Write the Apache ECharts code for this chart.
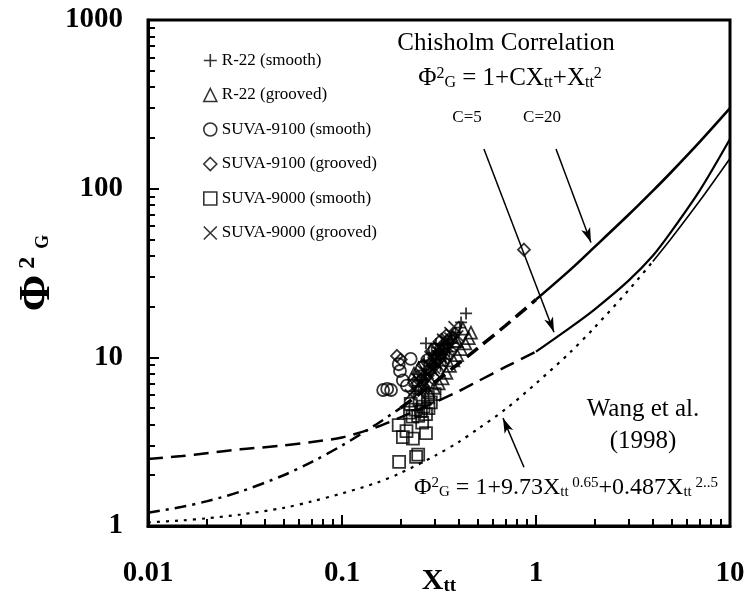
<!DOCTYPE html>
<html><head><meta charset="utf-8">
<script src="https://cdn.jsdelivr.net/npm/echarts@6/dist/echarts.min.js"></script>
<style>html,body{margin:0;padding:0;background:#fff}#c{width:744px;height:603px}</style>
</head><body><div id="c"></div>
<script>
// ---- data ----
const xCurve = [0.01, 0.015, 0.02, 0.03, 0.05, 0.07, 0.1, 0.15, 0.2, 0.3, 0.4, 0.5, 0.7, 1, 1.5, 2, 3, 4, 5, 7, 10];
const yChisholm20 = [1.2, 1.3, 1.4, 1.6, 2.0, 2.4, 3.0, 4.0, 5.0, 7.1, 9.2, 11.3, 15.5, 22, 33, 45, 70, 97, 126, 190, 300];
const yWang = [2.5, 2.6, 2.7, 2.85, 3.0, 3.15, 3.35, 3.85, 4.4, 5.4, 6.3, 7.2, 8.8, 10.8, 15.0, 19.2, 28.5, 40, 56, 98, 197];
const yChisholm5 = [1.05, 1.08, 1.11, 1.17, 1.28, 1.4, 1.56, 1.8, 2.06, 2.6, 3.15, 3.75, 4.95, 7.0, 10.7, 15, 25, 37, 51, 85, 151];

const xMinorTicks = [0.02,0.03,0.04,0.05,0.06,0.07,0.08,0.09,0.2,0.3,0.4,0.5,0.6,0.7,0.8,0.9,2,3,4,5,6,7,8,9];
const yMinorTicks = [2,3,4,5,6,7,8,9,20,30,40,50,60,70,80,90,200,300,400,500,600,700,800,900];

const r22Smooth = [[0.436,18.2],[0.411,16.1],[0.405,15.0],[0.385,14.0],[0.271,12.1],[0.365,12.8],[0.35,12.0],[0.335,11.2],[0.32,10.5],[0.305,9.7],[0.292,9.1],[0.28,8.4],[0.27,7.9],[0.258,7.3],[0.248,6.8],[0.238,6.3],[0.305,12.0],[0.322,8.9],[0.342,9.8],[0.358,10.8],[0.29,10.6],[0.265,9.4],
  [0.283,9.6],[0.297,10.2],[0.312,10.9],[0.327,11.8],[0.3,8.9],[0.287,8.1]];
const r22Grooved = [[0.462,14.0],[0.45,13.0],[0.432,12.1],[0.41,11.2],[0.392,10.3],[0.375,9.6],[0.36,8.9],[0.345,8.1],[0.33,7.5],[0.315,7.0],[0.235,8.0],[0.248,8.6],[0.298,6.6],[0.28,6.2],[0.37,13.2],[0.42,14.8],[0.39,12.5]];
const suva9100Smooth = [[0.163,6.4],[0.171,6.5],[0.179,6.4],[0.196,9.1],[0.199,8.3],[0.206,7.3],[0.216,6.8],[0.252,7.7],[0.275,9.6],[0.30,11.2],[0.226,9.8]];
const suva9100Grooved = [[0.192,10.2],[0.201,9.7],[0.867,43.5],[0.262,9.0],[0.288,10.8],[0.318,12.4],[0.236,7.1],[0.345,13.5]];
const suva9000Smooth = [[0.196,3.96],[0.206,3.36],[0.224,4.70],[0.231,4.45],[0.239,4.90],[0.247,4.50],[0.255,4.80],[0.263,5.10],[0.271,4.60],[0.279,5.00],[0.287,5.40],[0.232,3.30],[0.271,3.55],[0.197,2.40],[0.241,2.57],[0.247,2.65],[0.215,3.65],[0.259,4.10],[0.226,5.30],[0.251,5.60],[0.277,5.80],[0.30,6.05]];
const suva9000Grooved = [[0.225,6.0],[0.235,6.4],[0.245,6.9],[0.255,7.1],[0.262,7.6],[0.27,8.2],[0.278,8.0],[0.285,8.8],[0.295,9.3],[0.30,8.6],[0.31,10.0],[0.32,10.6],[0.33,9.8],[0.34,11.4],[0.35,12.2],[0.26,6.5],[0.28,7.3],[0.242,7.5],[0.29,10.2],[0.315,11.5],[0.33,12.8],[0.36,14.0],
  [0.25,6.2],[0.268,6.9],[0.285,7.6],[0.3,8.2],[0.315,8.9],[0.325,9.3],[0.338,10.2],[0.352,10.9],[0.368,11.7],[0.38,12.6],[0.395,13.4],[0.3,9.6],[0.31,11.0],[0.345,12.9],[0.275,9.0],[0.255,8.0],[0.378,15.2],[0.36,13.0],
  [0.265,7.2],[0.292,8.4],[0.307,9.2],[0.322,10.1],[0.336,10.8],[0.35,11.6]];

const arrowC5 = [[0.539,172],[1.238,14.1]];
const arrowC20 = [[1.268,172],[1.92,47.9]];
const arrowWang = [[0.867,2.23],[0.676,4.36]];

const seriesNames = ['R-22 (smooth)','R-22 (grooved)','SUVA-9100 (smooth)','SUVA-9100 (grooved)','SUVA-9000 (smooth)','SUVA-9000 (grooved)'];

// ---- chart ----
const FF = '"Liberation Serif","Times New Roman",serif';
const seg = (ys, a, b) => xCurve.slice(a, b + 1).map((x, i) => [x, ys[a + i]]);
const lineS = (data, type, width) => ({
  type: 'line', data, symbol: 'none', smooth: 0.3, silent: true, z: 2,
  lineStyle: { color: '#000', width, type, cap: 'butt' }
});
const mk = (name, data, symbol, size) => ({
  type: 'scatter', name, data, symbol, symbolSize: size, z: 3, silent: true,
  itemStyle: { color: 'transparent', borderColor: '#000', borderWidth: 1.8 }
});
const PLUS = 'path://M5,0L5,10M0,5L10,5';
const CROSS = 'path://M0,0L10,10M10,0L0,10';

const chart = echarts.init(document.getElementById('c'), null, { renderer: 'canvas' });
const arrowLine = (pts) => [
  { coord: pts[0], symbol: 'none' },
  { coord: pts[1], symbol: 'arrow', symbolSize: [7, 15] }
];
const plainNum = (v) => String(+v.toPrecision(6));
chart.setOption({
  animation: false,
  backgroundColor: '#fff',
  grid: { left: 148, right: 14, top: 20, bottom: 77, containLabel: false, outerBoundsMode: 'none',
          show: true, borderColor: '#000', borderWidth: 3, backgroundColor: 'transparent' },
  legend: {
    data: seriesNames, orient: 'vertical', left: 203, top: 52, padding: 0,
    itemWidth: 13, itemHeight: 13, itemGap: 17.5,
    textStyle: { fontFamily: FF, fontSize: 17, color: '#000', lineHeight: 17 },
    itemStyle: { color: 'transparent', borderColor: '#000', borderWidth: 1.6 },
    selectedMode: false
  },
  xAxis: [{
    type: 'log', logBase: 10, min: 0.01, max: 10,
    axisLine: { lineStyle: { color: '#000', width: 3 } },
    axisTick: { inside: true, length: 11, lineStyle: { color: '#000', width: 2 } },
    axisLabel: { margin: 33, fontFamily: FF, fontWeight: 'bold', fontSize: 29, color: '#000', formatter: plainNum },
    splitLine: { show: false },
    name: '{x|X}{t|tt}', nameLocation: 'middle', nameGap: 40, nameMoveOverlap: false,
    nameTextStyle: { rich: {
      x: { fontFamily: FF, fontWeight: 'bold', fontSize: 30, color: '#000' },
      t: { fontFamily: FF, fontWeight: 'bold', fontSize: 19, color: '#000', verticalAlign: 'bottom' } } }
  }, {
    type: 'log', logBase: 10, min: 0.01, max: 10, position: 'bottom',
    axisLine: { show: false },
    axisTick: { inside: true, length: 7, customValues: xMinorTicks, lineStyle: { color: '#000', width: 2 } },
    axisLabel: { show: false }, splitLine: { show: false }
  }],
  yAxis: [{
    type: 'log', logBase: 10, min: 1, max: 1000,
    axisLine: { lineStyle: { color: '#000', width: 3 } },
    axisTick: { inside: true, length: 11, lineStyle: { color: '#000', width: 2 } },
    axisLabel: { margin: 25, fontFamily: FF, fontWeight: 'bold', fontSize: 29, color: '#000', formatter: plainNum },
    splitLine: { show: false },
    name: '{p|Φ}{s|2}{g|G}', nameLocation: 'middle', nameGap: 88, nameRotate: 90, nameMoveOverlap: false,
    nameTextStyle: { rich: {
      p: { fontFamily: FF, fontWeight: 'bold', fontSize: 44, color: '#000', padding: [0, 0, 0, 0] },
      s: { fontFamily: FF, fontWeight: 'bold', fontSize: 24, color: '#000', verticalAlign: 'top', padding: [0, 0, 0, 6] },
      g: { fontFamily: FF, fontWeight: 'bold', fontSize: 18, color: '#000', verticalAlign: 'bottom', padding: [0, 0, 8, 8] } } }
  }, {
    type: 'log', logBase: 10, min: 1, max: 1000, position: 'left',
    axisLine: { show: false },
    axisTick: { inside: true, length: 7, customValues: yMinorTicks, lineStyle: { color: '#000', width: 2 } },
    axisLabel: { show: false }, splitLine: { show: false }
  }],
  series: [
    lineS(seg(yChisholm20, 0, 8), [12, 6, 3, 6], 2.5),
    lineS(seg(yChisholm20, 8, 13), [14, 7], 3.5),
    Object.assign(lineS(seg(yChisholm20, 13, 20), 'solid', 2.6), {
      markLine: {
        silent: true, label: { show: false }, symbol: ['none', 'arrow'],
        lineStyle: { color: '#000', width: 1.5, type: 'solid' },
        data: [arrowLine(arrowC5), arrowLine(arrowC20), arrowLine(arrowWang)]
      }
    }),
    lineS(seg(yWang, 0, 13), [15, 8], 2.5),
    lineS(seg(yWang, 13, 20), 'solid', 2.2),
    lineS(seg(yChisholm5, 0, 17), [3, 6], 2.2),
    lineS(seg(yChisholm5, 17, 20), 'solid', 1.6),
    mk(seriesNames[0], r22Smooth, PLUS, 12),
    mk(seriesNames[1], r22Grooved, 'triangle', 12),
    mk(seriesNames[2], suva9100Smooth, 'circle', 12),
    mk(seriesNames[3], suva9100Grooved, 'diamond', 12),
    mk(seriesNames[4], suva9000Smooth, 'rect', 12),
    mk(seriesNames[5], suva9000Grooved, CROSS, 11)
  ],
  graphic: [
    { type: 'text', x: 506, y: 43, style: { text: 'Chisholm Correlation', font: '25px ' + FF, fill: '#000', align: 'center', verticalAlign: 'middle' } },
    { type: 'text', x: 510, y: 78, style: {
      text: '{a|Φ}{s|2}{b|G}{a| = 1+CX}{b|tt}{a|+X}{b|tt}{s|2}', align: 'center', verticalAlign: 'middle',
      rich: {
        a: { fontFamily: FF, fontSize: 25, fill: '#000' },
        s: { fontFamily: FF, fontSize: 16, fill: '#000', verticalAlign: 'top' },
        b: { fontFamily: FF, fontSize: 16, fill: '#000', verticalAlign: 'bottom' } } } },
    { type: 'text', x: 467, y: 118, style: { text: 'C=5', font: '17px ' + FF, fill: '#000', align: 'center', verticalAlign: 'middle' } },
    { type: 'text', x: 542, y: 118, style: { text: 'C=20', font: '17px ' + FF, fill: '#000', align: 'center', verticalAlign: 'middle' } },
    { type: 'text', x: 643, y: 409, style: { text: 'Wang et al.', font: '25px ' + FF, fill: '#000', align: 'center', verticalAlign: 'middle' } },
    { type: 'text', x: 643, y: 441, style: { text: '(1998)', font: '25px ' + FF, fill: '#000', align: 'center', verticalAlign: 'middle' } },
    { type: 'text', x: 566, y: 488, style: {
      text: '{a|Φ}{s|2}{b|G}{a| = 1+9.73X}{b|tt}{s| 0.65}{a|+0.487X}{b|tt}{s| 2..5}', align: 'center', verticalAlign: 'middle',
      rich: {
        a: { fontFamily: FF, fontSize: 24, fill: '#000' },
        s: { fontFamily: FF, fontSize: 15, fill: '#000', verticalAlign: 'top' },
        b: { fontFamily: FF, fontSize: 15, fill: '#000', verticalAlign: 'bottom' } } } }
  ]
});
</script></body></html>
